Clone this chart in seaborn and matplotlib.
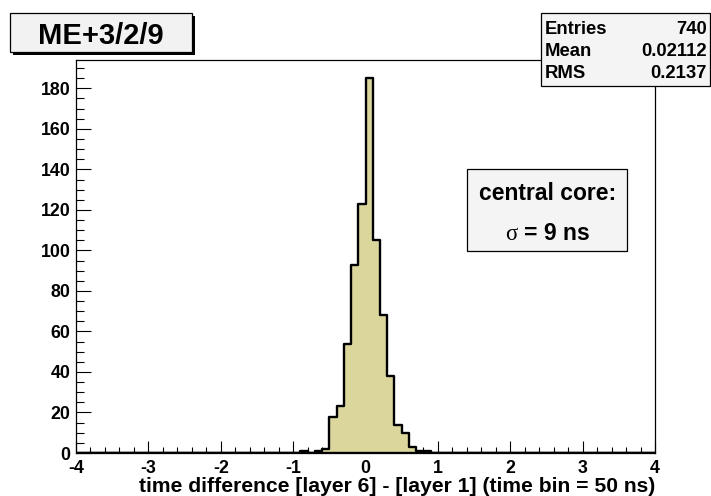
import numpy as np
import pandas as pd
import matplotlib
matplotlib.use("Agg")
import matplotlib.pyplot as plt
import seaborn as sns
from matplotlib.patches import Rectangle
from matplotlib.ticker import MultipleLocator, FixedLocator

# ---------------- data ----------------
bin_centers = [-0.85, -0.75, -0.65, -0.55, -0.45, -0.35, -0.25, -0.15, -0.05,
               0.05, 0.15, 0.25, 0.35, 0.45, 0.55, 0.65, 0.75, 0.85]
counts = [1, 0, 1, 2, 18, 23, 54, 93, 123,
          185, 105, 68, 38, 14, 10, 3, 1, 1]
x_range = [-4, 4]
bin_width = 0.1
x_ticks = [-4, -3, -2, -1, 0, 1, 2, 3, 4]
y_ticks = [0, 20, 40, 60, 80, 100, 120, 140, 160, 180]
y_max = 194.25
title_text = "ME+3/2/9"
x_label = "time difference [layer 6] - [layer 1] (time bin = 50 ns)"
stats_names = ["Entries", "Mean", "RMS"]
stats_values = ["740", "0.02112", "0.2137"]
note_line1 = "central core:"
note_line2 = "= 9 ns"

# ---------------- style ----------------
sns.set_theme(style="white")
plt.rcParams['font.family'] = ['Liberation Sans', 'DejaVu Sans']
plt.rcParams['mathtext.fontset'] = 'custom'
plt.rcParams['mathtext.it'] = 'Liberation Serif'
plt.rcParams['mathtext.rm'] = 'Liberation Serif'

W, H = 711, 496
fig = plt.figure(figsize=(W / 100, H / 100), dpi=100)
fig.patch.set_facecolor("white")

L, R, T, B = 76, 655, 59.5, 453
ax = fig.add_axes([L / W, 1 - B / H, (R - L) / W, (B - T) / H])
ax.set_facecolor("white")

df = pd.DataFrame({"x": bin_centers, "w": counts})
n_bins = int(round((x_range[1] - x_range[0]) / bin_width))
edges = np.linspace(x_range[0], x_range[1], n_bins + 1).tolist()
sns.histplot(data=df, x="x", weights="w", bins=edges, element="step", fill=True,
             color="#dbd69c", alpha=1, edgecolor="black", linewidth=1.7, ax=ax)

ax.set_xlim(*x_range)
ax.set_ylim(0, y_max)
ax.set_ylabel("")

for s in ax.spines.values():
    s.set_color("black")
    s.set_linewidth(0.9)
    s.set_visible(True)

ax.xaxis.set_major_locator(FixedLocator(x_ticks))
ax.xaxis.set_minor_locator(MultipleLocator(0.2))
ax.yaxis.set_major_locator(FixedLocator(y_ticks))
ax.yaxis.set_minor_locator(MultipleLocator(5))
ax.set_xticklabels([str(t) for t in x_ticks])
ax.set_yticklabels([str(t) for t in y_ticks])

ax.tick_params(axis="x", which="major", direction="in", length=8.5, width=0.8,
               color="black", bottom=True, top=False, pad=5,
               labelsize=12.8, labelcolor="black")
ax.tick_params(axis="x", which="minor", direction="in", length=4.2, width=0.8,
               color="black", bottom=True, top=False)
ax.tick_params(axis="y", which="major", direction="in", length=11, width=0.8,
               color="black", left=True, right=False, pad=4,
               labelsize=12.8, labelcolor="black")
ax.tick_params(axis="y", which="minor", direction="in", length=5.4, width=0.8,
               color="black", left=True, right=False)
for lab in ax.get_xticklabels() + ax.get_yticklabels():
    lab.set_fontweight("bold")

ax.set_xlabel(x_label, fontsize=15.2, fontweight="bold", color="black", loc="right", labelpad=0)


def fx(px):
    return px / W


def fy(py):
    return 1 - py / H


def box(x0, y0, x1, y1, face, shadow=True):
    if shadow:
        fig.patches.append(Rectangle((fx(x0 + 3), fy(y1 + 3)), (x1 - x0) / W, (y1 - y0) / H,
                                     transform=fig.transFigure, facecolor="black",
                                     edgecolor="none", zorder=5))
    fig.patches.append(Rectangle((fx(x0), fy(y1)), (x1 - x0) / W, (y1 - y0) / H,
                                 transform=fig.transFigure, facecolor=face,
                                 edgecolor="black", linewidth=0.9, zorder=6))


# title box
box(10, 13, 192, 52, "#f2f2f2")
fig.text(fx(101), fy(36.5), title_text, ha="center", va="center", fontsize=21,
         fontweight="bold", color="black", zorder=7)

# stats box
box(541, 13, 710, 86, "#f4f4f4", shadow=False)
rows_y = [30, 51, 73]
for name, val, yy in zip(stats_names, stats_values, rows_y):
    fig.text(fx(545), fy(yy), name, ha="left", va="center", fontsize=13.3,
             fontweight="bold", color="black", zorder=7)
    fig.text(fx(707), fy(yy), val, ha="right", va="center", fontsize=13.3,
             fontweight="bold", color="black", zorder=7)

# note box
box(467, 169, 627, 251, "#f4f4f4", shadow=False)
fig.text(fx(548), fy(193), note_line1, ha="center", va="center", fontsize=16.5,
         fontweight="bold", color="black", zorder=7)
fig.text(fx(548), fy(233), r"$\sigma$ " + note_line2, ha="center", va="center", fontsize=16.5,
         fontweight="bold", color="black", zorder=7)

fig.savefig("out.png", dpi=100)
